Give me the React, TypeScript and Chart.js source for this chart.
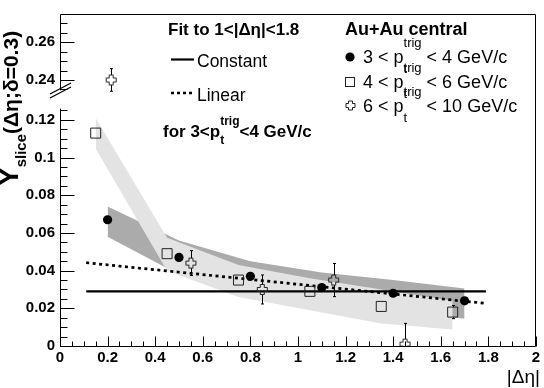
import React, { useEffect, useRef } from "react";
import { Chart, registerables } from "chart.js";

Chart.register(...registerables);

const FONT = "'Liberation Sans', Arial, Helvetica, sans-serif";

// ---------- axis ticks ----------
const xTickValues = [0, 0.2, 0.4, 0.6, 0.8, 1, 1.2, 1.4, 1.6, 1.8, 2];
const xTickLabels = ["0", "0.2", "0.4", "0.6", "0.8", "1", "1.2", "1.4", "1.6", "1.8", "2"];
const yTickValues = [0, 0.02, 0.04, 0.06, 0.08, 0.1, 0.12, 0.24, 0.26];
const yTickLabels = ["0", "0.02", "0.04", "0.06", "0.08", "0.1", "0.12", "0.24", "0.26"];

// broken y axis: values above the break are shifted down
const BREAK_LOW = 0.126;
const BREAK_HIGH = 0.2345;
const BREAK_SHIFT = 0.0988;
const Y_TOP = 0.275;
const toAxis = (v: number) => (v > 0.18 ? v - BREAK_SHIFT : v);

// ---------- data ----------
// Au+Au central, 3 < pT(trig) < 4 GeV/c
const xA = [0.2, 0.5, 0.8, 1.1, 1.4, 1.7];
const yA = [0.067, 0.047, 0.037, 0.031, 0.028, 0.024];
const eA = [0.0015, 0.0015, 0.0015, 0.0015, 0.0015, 0.0015];
const sysAHigh = [0.074, 0.056, 0.045, 0.039, 0.035, 0.0305];
const sysALow = [0.058, 0.038, 0.03, 0.024, 0.019, 0.0145];

// 4 < pT(trig) < 6 GeV/c
const xB = [0.15, 0.45, 0.75, 1.05, 1.35, 1.65];
const yB = [0.113, 0.049, 0.035, 0.029, 0.021, 0.018];
const eB = [0.002, 0.002, 0.002, 0.002, 0.0025, 0.0035];
const sysBHigh = [0.121, 0.0575, 0.043, 0.036, 0.03, 0.024];
const sysBLow = [0.1047, 0.04, 0.026, 0.019, 0.012, 0.0088];

// 6 < pT(trig) < 10 GeV/c
const xC = [0.215, 0.55, 0.85, 1.15, 1.45];
const yC = [0.24, 0.044, 0.03, 0.035, 0.001];
const eC = [0.006, 0.0066, 0.0077, 0.0088, 0.011];

// fits to 1<|deta|<1.8 for 3<pT<4
const fitX = [0.11, 1.79];
const constY = [0.029, 0.029];
const linearY = [0.0442, 0.0226];

// ---------- helpers ----------
type Seg = { t: string; f: string; dy?: number };
type Part = Seg | { stack: Seg[] };

function drawRich(ctx: CanvasRenderingContext2D, x: number, y: number, parts: Part[]) {
  let cx = x;
  for (const p of parts) {
    if ("stack" in p) {
      let w = 0;
      for (const s of p.stack) {
        ctx.font = s.f;
        ctx.fillText(s.t, cx, y + (s.dy || 0));
        w = Math.max(w, ctx.measureText(s.t).width);
      }
      cx += w;
    } else {
      ctx.font = p.f;
      ctx.fillText(p.t, cx, y + (p.dy || 0));
      cx += ctx.measureText(p.t).width;
    }
  }
}

function crossPath(ctx: CanvasRenderingContext2D, cx: number, cy: number, a: number, b: number) {
  const pts = [
    [-b, -a], [b, -a], [b, -b], [a, -b], [a, b], [b, b],
    [b, a], [-b, a], [-b, b], [-a, b], [-a, -b], [-b, -b],
  ];
  ctx.beginPath();
  pts.forEach(([px, py], i) => (i ? ctx.lineTo(cx + px, cy + py) : ctx.moveTo(cx + px, cy + py)));
  ctx.closePath();
}

function makeCrossImage() {
  const c = document.createElement("canvas");
  c.width = 13;
  c.height = 13;
  const g = c.getContext("2d")!;
  g.strokeStyle = "#222";
  g.lineWidth = 1;
  crossPath(g, 6.5, 6.5, 5, 2);
  g.stroke();
  return c;
}

const pts = (xs: number[], ys: number[]) => xs.map((x, i) => ({ x, y: toAxis(ys[i]) }));

// ---------- plugins ----------
const errorBarPlugin = {
  id: "errbars",
  beforeDatasetDraw(chart: any, args: any) {
    const ds = chart.data.datasets[args.index];
    if (!ds.errors) return;
    const { ctx, chartArea } = chart;
    const xs = chart.scales.x;
    const ys = chart.scales.y;
    ctx.save();
    ctx.beginPath();
    ctx.rect(chartArea.left, chartArea.top, chartArea.right - chartArea.left, chartArea.bottom - chartArea.top);
    ctx.clip();
    ctx.strokeStyle = "#000";
    ctx.lineWidth = 1;
    const h = ds.markerHalf || 5;
    ds.rawY.forEach((v: number, i: number) => {
      const e = ds.errors[i];
      const px = Math.round(xs.getPixelForValue(ds.rawX[i])) + 0.5;
      const pc = ys.getPixelForValue(toAxis(v));
      const pt = ys.getPixelForValue(toAxis(v + e));
      const pb = ys.getPixelForValue(toAxis(v - e));
      ctx.beginPath();
      if (pt < pc - h) {
        ctx.moveTo(px, pc - h);
        ctx.lineTo(px, pt);
        ctx.moveTo(px - 1.5, pt);
        ctx.lineTo(px + 1.5, pt);
      }
      if (pb > pc + h) {
        ctx.moveTo(px, pc + h);
        ctx.lineTo(px, pb);
        ctx.moveTo(px - 1.5, pb);
        ctx.lineTo(px + 1.5, pb);
      }
      ctx.stroke();
    });
    ctx.restore();
  },
};

const framePlugin = {
  id: "frame",
  afterDatasetsDraw(chart: any) {
    const { ctx, chartArea } = chart;
    const xs = chart.scales.x;
    const ys = chart.scales.y;
    const L = Math.round(chartArea.left) + 0.5;
    const R = Math.round(chartArea.right) - 0.5;
    const T = Math.round(chartArea.top) + 0.5;
    const B = Math.round(chartArea.bottom) + 0.5;
    ctx.save();
    ctx.strokeStyle = "#000";
    ctx.lineWidth = 1;
    ctx.beginPath();
    // bottom, right, top
    ctx.moveTo(L, B);
    ctx.lineTo(R, B);
    ctx.lineTo(R, T);
    ctx.lineTo(L, T);
    // left axis, broken
    const yLowEnd = ys.getPixelForValue(BREAK_LOW);
    const yHighStart = ys.getPixelForValue(toAxis(BREAK_HIGH));
    ctx.moveTo(L, T);
    ctx.lineTo(L, yHighStart);
    ctx.moveTo(L, B);
    ctx.lineTo(L, yLowEnd);
    // x ticks
    for (let k = 0; k <= 40; k++) {
      const v = k * 0.05;
      const px = Math.round(xs.getPixelForValue(v)) + 0.5;
      const len = k % 4 === 0 ? 10 : 5;
      ctx.moveTo(px, B);
      ctx.lineTo(px, B - len);
    }
    // y ticks lower
    for (let k = 0; k <= 25; k++) {
      const v = k * 0.005;
      const py = Math.round(ys.getPixelForValue(v)) + 0.5;
      const len = k % 4 === 0 ? 14 : 7;
      ctx.moveTo(L, py);
      ctx.lineTo(L + len, py);
    }
    // y ticks upper
    for (let k = 47; k <= 54; k++) {
      const v = k * 0.005;
      const py = Math.round(ys.getPixelForValue(toAxis(v))) + 0.5;
      const len = k % 4 === 0 ? 14 : 7;
      ctx.moveTo(L, py);
      ctx.lineTo(L + len, py);
    }
    ctx.stroke();
    // break marks
    ctx.lineWidth = 1.3;
    ctx.beginPath();
    ctx.moveTo(50, 94);
    ctx.lineTo(71, 83);
    ctx.moveTo(50, 98);
    ctx.lineTo(71, 87);
    ctx.stroke();
    ctx.restore();
  },
  afterDraw(chart: any) {
    const ctx: CanvasRenderingContext2D = chart.ctx;
    ctx.save();
    ctx.fillStyle = "#000";
    ctx.textAlign = "left";
    ctx.textBaseline = "alphabetic";
    const B17 = `bold 17px ${FONT}`;
    const B12 = `bold 12px ${FONT}`;
    const R18 = `18px ${FONT}`;
    const R14 = `13px ${FONT}`;

    // x title
    ctx.font = `19px ${FONT}`;
    ctx.textAlign = "right";
    ctx.fillText("|\u0394\u03b7|", 540, 383);
    ctx.textAlign = "left";

    // y title (rotated)
    ctx.save();
    ctx.translate(17.5, 186);
    ctx.rotate(-Math.PI / 2);
    drawRich(ctx, 0, 0, [
      { t: "Y", f: `bold 28px ${FONT}` },
      { t: "slice", f: `bold 15px ${FONT}`, dy: 8 },
      { t: "(\u0394\u03b7;\u03b4=0.3)", f: `bold 21px ${FONT}` },
    ]);
    ctx.restore();

    // left legend block
    ctx.font = B17;
    ctx.fillText("Fit to 1<|\u0394\u03b7|<1.8", 168, 35);
    ctx.strokeStyle = "#000";
    ctx.lineWidth = 2.2;
    ctx.beginPath();
    ctx.moveTo(171, 59.5);
    ctx.lineTo(194, 59.5);
    ctx.stroke();
    ctx.setLineDash([3, 3]);
    ctx.lineWidth = 2.7;
    ctx.beginPath();
    ctx.moveTo(171, 93);
    ctx.lineTo(194, 93);
    ctx.stroke();
    ctx.setLineDash([]);
    ctx.font = `17.5px ${FONT}`;
    ctx.fillText("Constant", 197, 67);
    ctx.fillText("Linear", 197, 101);
    drawRich(ctx, 163, 137, [
      { t: "for 3<p", f: B17 },
      { stack: [{ t: "t", f: B12, dy: 7 }, { t: "trig", f: B12, dy: -12 }] },
      { t: "<4 GeV/c", f: B17 },
    ]);

    // right legend block
    ctx.font = `bold 18px ${FONT}`;
    ctx.fillText("Au+Au central", 345, 35);
    const rows = [
      { lo: "3", hi: "4", base: 63 },
      { lo: "4", hi: "6", base: 88 },
      { lo: "6", hi: "10", base: 112 },
    ];
    rows.forEach((r) => {
      drawRich(ctx, 363, r.base, [
        { t: `${r.lo} < p`, f: R18 },
        { stack: [{ t: "t", f: R14, dy: 10 }, { t: "trig", f: R14, dy: -16 }] },
        { t: ` < ${r.hi} GeV/c`, f: R18 },
      ]);
    });
    // legend markers
    ctx.beginPath();
    ctx.arc(350, 57, 4.6, 0, Math.PI * 2);
    ctx.fill();
    ctx.strokeStyle = "#222";
    ctx.lineWidth = 1;
    ctx.strokeRect(345.5, 77.5, 9, 9);
    crossPath(ctx, 350.5, 105.5, 4.5, 2);
    ctx.stroke();
    ctx.restore();
  },
};

export default function App() {
  const ref = useRef<HTMLCanvasElement | null>(null);
  useEffect(() => {
    if (!ref.current) return;
    const cross = makeCrossImage();
    const DARK = "#ababab";
    const LIGHT = "#e3e3e3";
    const band = (xs: number[], ys: number[], color: string, fill: any, order: number) => ({
      type: "line",
      data: pts(xs, ys),
      borderWidth: 0,
      borderColor: color,
      backgroundColor: color,
      pointRadius: 0,
      fill,
      order,
      tension: 0,
    });
    const chart = new Chart(ref.current, {
      type: "scatter",
      data: {
        datasets: [
          band(xA, sysAHigh, DARK, "+1", 10),
          band(xA, sysALow, DARK, false, 10),
          band(xB, sysBHigh, LIGHT, "+1", 9),
          band(xB, sysBLow, LIGHT, false, 9),
          {
            type: "line",
            data: pts(fitX, constY),
            borderColor: "#000",
            borderWidth: 2.2,
            pointRadius: 0,
            fill: false,
            order: 5,
          },
          {
            type: "line",
            data: pts(fitX, linearY),
            borderColor: "#000",
            borderWidth: 2.7,
            borderDash: [3, 3.5],
            pointRadius: 0,
            fill: false,
            order: 5,
          },
          {
            data: pts(xB, yB),
            rawX: xB,
            rawY: yB,
            errors: eB,
            markerHalf: 5,
            pointStyle: "rect",
            pointRadius: 7.07,
            borderColor: "#222",
            borderWidth: 1,
            backgroundColor: "rgba(0,0,0,0)",
            order: 2,
          },
          {
            data: pts(xC, yC),
            rawX: xC,
            rawY: yC,
            errors: eC,
            markerHalf: 5,
            pointStyle: cross,
            pointRadius: 6,
            order: 2,
          },
          {
            data: pts(xA, yA),
            rawX: xA,
            rawY: yA,
            errors: eA,
            markerHalf: 4.6,
            pointStyle: "circle",
            pointRadius: 4.6,
            borderWidth: 0,
            backgroundColor: "#000",
            order: 1,
          },
        ] as any,
      },
      options: {
        animation: false,
        responsive: false,
        events: [],
        layout: { padding: { top: 2, right: 4, left: 0, bottom: 0 } },
        plugins: { legend: { display: false }, tooltip: { enabled: false } },
        scales: {
          x: {
            type: "linear",
            min: 0,
            max: 2,
            afterFit: (s: any) => {
              s.height = 42;
            },
            afterBuildTicks: (s: any) => {
              s.ticks = xTickValues.map((value) => ({ value }));
            },
            ticks: {
              autoSkip: false,
              maxRotation: 0,
              padding: 3,
              color: "#000",
              font: { family: FONT, size: 15, weight: "bold" },
              callback: (_v: any, i: number) => xTickLabels[i],
            },
            grid: { display: false, drawTicks: false },
            border: { display: false },
          },
          y: {
            type: "linear",
            min: 0,
            max: Y_TOP - BREAK_SHIFT,
            afterFit: (s: any) => {
              s.width = 60;
            },
            afterBuildTicks: (s: any) => {
              s.ticks = yTickValues.map((v) => ({ value: toAxis(v) }));
            },
            ticks: {
              autoSkip: false,
              padding: 5,
              color: "#000",
              font: { family: FONT, size: 15, weight: "bold" },
              callback: (_v: any, i: number) => yTickLabels[i],
            },
            grid: { display: false, drawTicks: false },
            border: { display: false },
          },
        },
      } as any,
      plugins: [errorBarPlugin, framePlugin],
    });
    return () => chart.destroy();
  }, []);
  return (
    <div style={{ position: "fixed", left: 0, top: 0, width: 544, height: 388, background: "#fff" }}>
      <canvas ref={ref} width={544} height={388} style={{ display: "block" }} />
    </div>
  );
}
